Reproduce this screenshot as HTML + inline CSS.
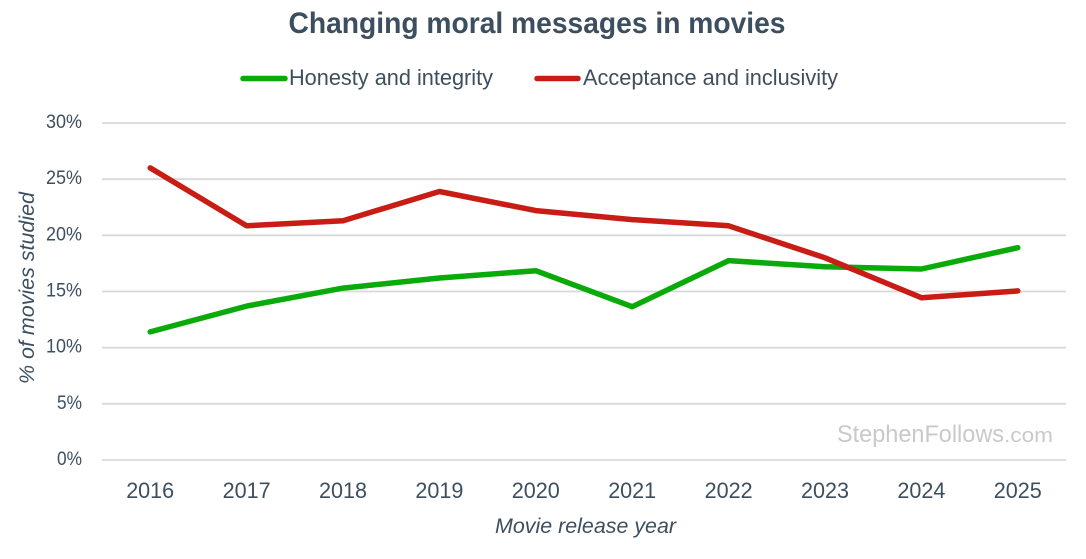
<!DOCTYPE html>
<html>
<head>
<meta charset="utf-8">
<style>
html,body{margin:0;padding:0;background:#fff;width:1086px;height:559px;overflow:hidden}
svg{display:block}
text{font-family:"Liberation Sans",sans-serif;fill:#3d4f5f}
</style>
</head>
<body>
<svg id="chart" width="1086" height="559" viewBox="0 0 1086 559" xmlns="http://www.w3.org/2000/svg">
  <text x="537" y="33" text-anchor="middle" font-size="30" font-weight="bold" textLength="497" lengthAdjust="spacingAndGlyphs">Changing moral messages in movies</text>
  <line x1="243" y1="78.5" x2="285" y2="78.5" stroke="#0aaa0a" stroke-width="5.5" stroke-linecap="round"/>
  <text x="289" y="85" font-size="22" textLength="204" lengthAdjust="spacingAndGlyphs">Honesty and integrity</text>
  <line x1="537" y1="78.5" x2="578" y2="78.5" stroke="#c91c14" stroke-width="5.5" stroke-linecap="round"/>
  <text x="583" y="85" font-size="22" textLength="255" lengthAdjust="spacingAndGlyphs">Acceptance and inclusivity</text>
  <g id="grid"></g>
  <g id="yticks"></g>
  <g id="xticks"></g>
  <text transform="translate(34,288) rotate(-90)" text-anchor="middle" font-size="21" font-style="italic" textLength="192" lengthAdjust="spacingAndGlyphs">% of movies studied</text>
  <text x="585.5" y="533" text-anchor="middle" font-size="21" font-style="italic" textLength="181" lengthAdjust="spacingAndGlyphs">Movie release year</text>
  <text x="837" y="442" font-size="24" style="fill:#c9c9c9" textLength="167" lengthAdjust="spacingAndGlyphs">StephenFollows</text>
  <text x="1004" y="442" font-size="20" style="fill:#c9c9c9" textLength="49" lengthAdjust="spacingAndGlyphs">.com</text>
  <g id="series"></g>
</svg>
<script>
const years = ['2016','2017','2018','2019','2020','2021','2022','2023','2024','2025'];
const honesty = [11.4,13.7,15.3,16.2,16.85,13.65,17.75,17.2,17.0,18.9];
const acceptance = [26.0,20.85,21.3,23.9,22.2,21.4,20.85,18.0,14.45,15.05];
const yTickValues = [0,5,10,15,20,25,30];

const NS = 'http://www.w3.org/2000/svg';
const plotLeft = 102, plotRight = 1066, plotTop = 123, plotBottom = 460, yMax = 30;
function xPos(i){ return plotLeft + (i + 0.5) * (plotRight - plotLeft) / years.length; }
function yPos(v){ return plotBottom - v / yMax * (plotBottom - plotTop); }
function make(tag, attrs, parent){
  const el = document.createElementNS(NS, tag);
  for (const k in attrs) el.setAttribute(k, attrs[k]);
  parent.appendChild(el);
  return el;
}
const grid = document.getElementById('grid');
const yticks = document.getElementById('yticks');
const xticks = document.getElementById('xticks');
const seriesGroup = document.getElementById('series');

yTickValues.forEach(function(v){
  const line = make('line', {x1:plotLeft, x2:plotRight, y1:yPos(v), y2:yPos(v), stroke:'#d9d9d9', 'stroke-width':1.8}, grid);
  
  
  const label = make('text', {x:82, y:yPos(v) + 5, 'text-anchor':'end', 'font-size':19.5, textLength:36, lengthAdjust:'spacingAndGlyphs'}, yticks);
  if (v === 0) label.setAttribute('textLength', 25);
  if (v === 5) label.setAttribute('textLength', 25);
  label.textContent = v + '%';
  
  
});

years.forEach(function(y, i){
  const label = make('text', {x:xPos(i), y:498, 'text-anchor':'middle', 'font-size':22, textLength:48, lengthAdjust:'spacingAndGlyphs'}, xticks);
  label.textContent = y;
  
  
});

function pointsFor(values){
  return values.map(function(v, i){ return xPos(i).toFixed(1) + ',' + yPos(v).toFixed(1); }).join(' ');
}
const honestyLine = make('polyline', {points:pointsFor(honesty), fill:'none', stroke:'#0aaa0a', 'stroke-width':5.5, 'stroke-linecap':'round', 'stroke-linejoin':'round'}, seriesGroup);


const acceptanceLine = make('polyline', {points:pointsFor(acceptance), fill:'none', stroke:'#c91c14', 'stroke-width':5.5, 'stroke-linecap':'round', 'stroke-linejoin':'round'}, seriesGroup);


</script>
</body>
</html>
